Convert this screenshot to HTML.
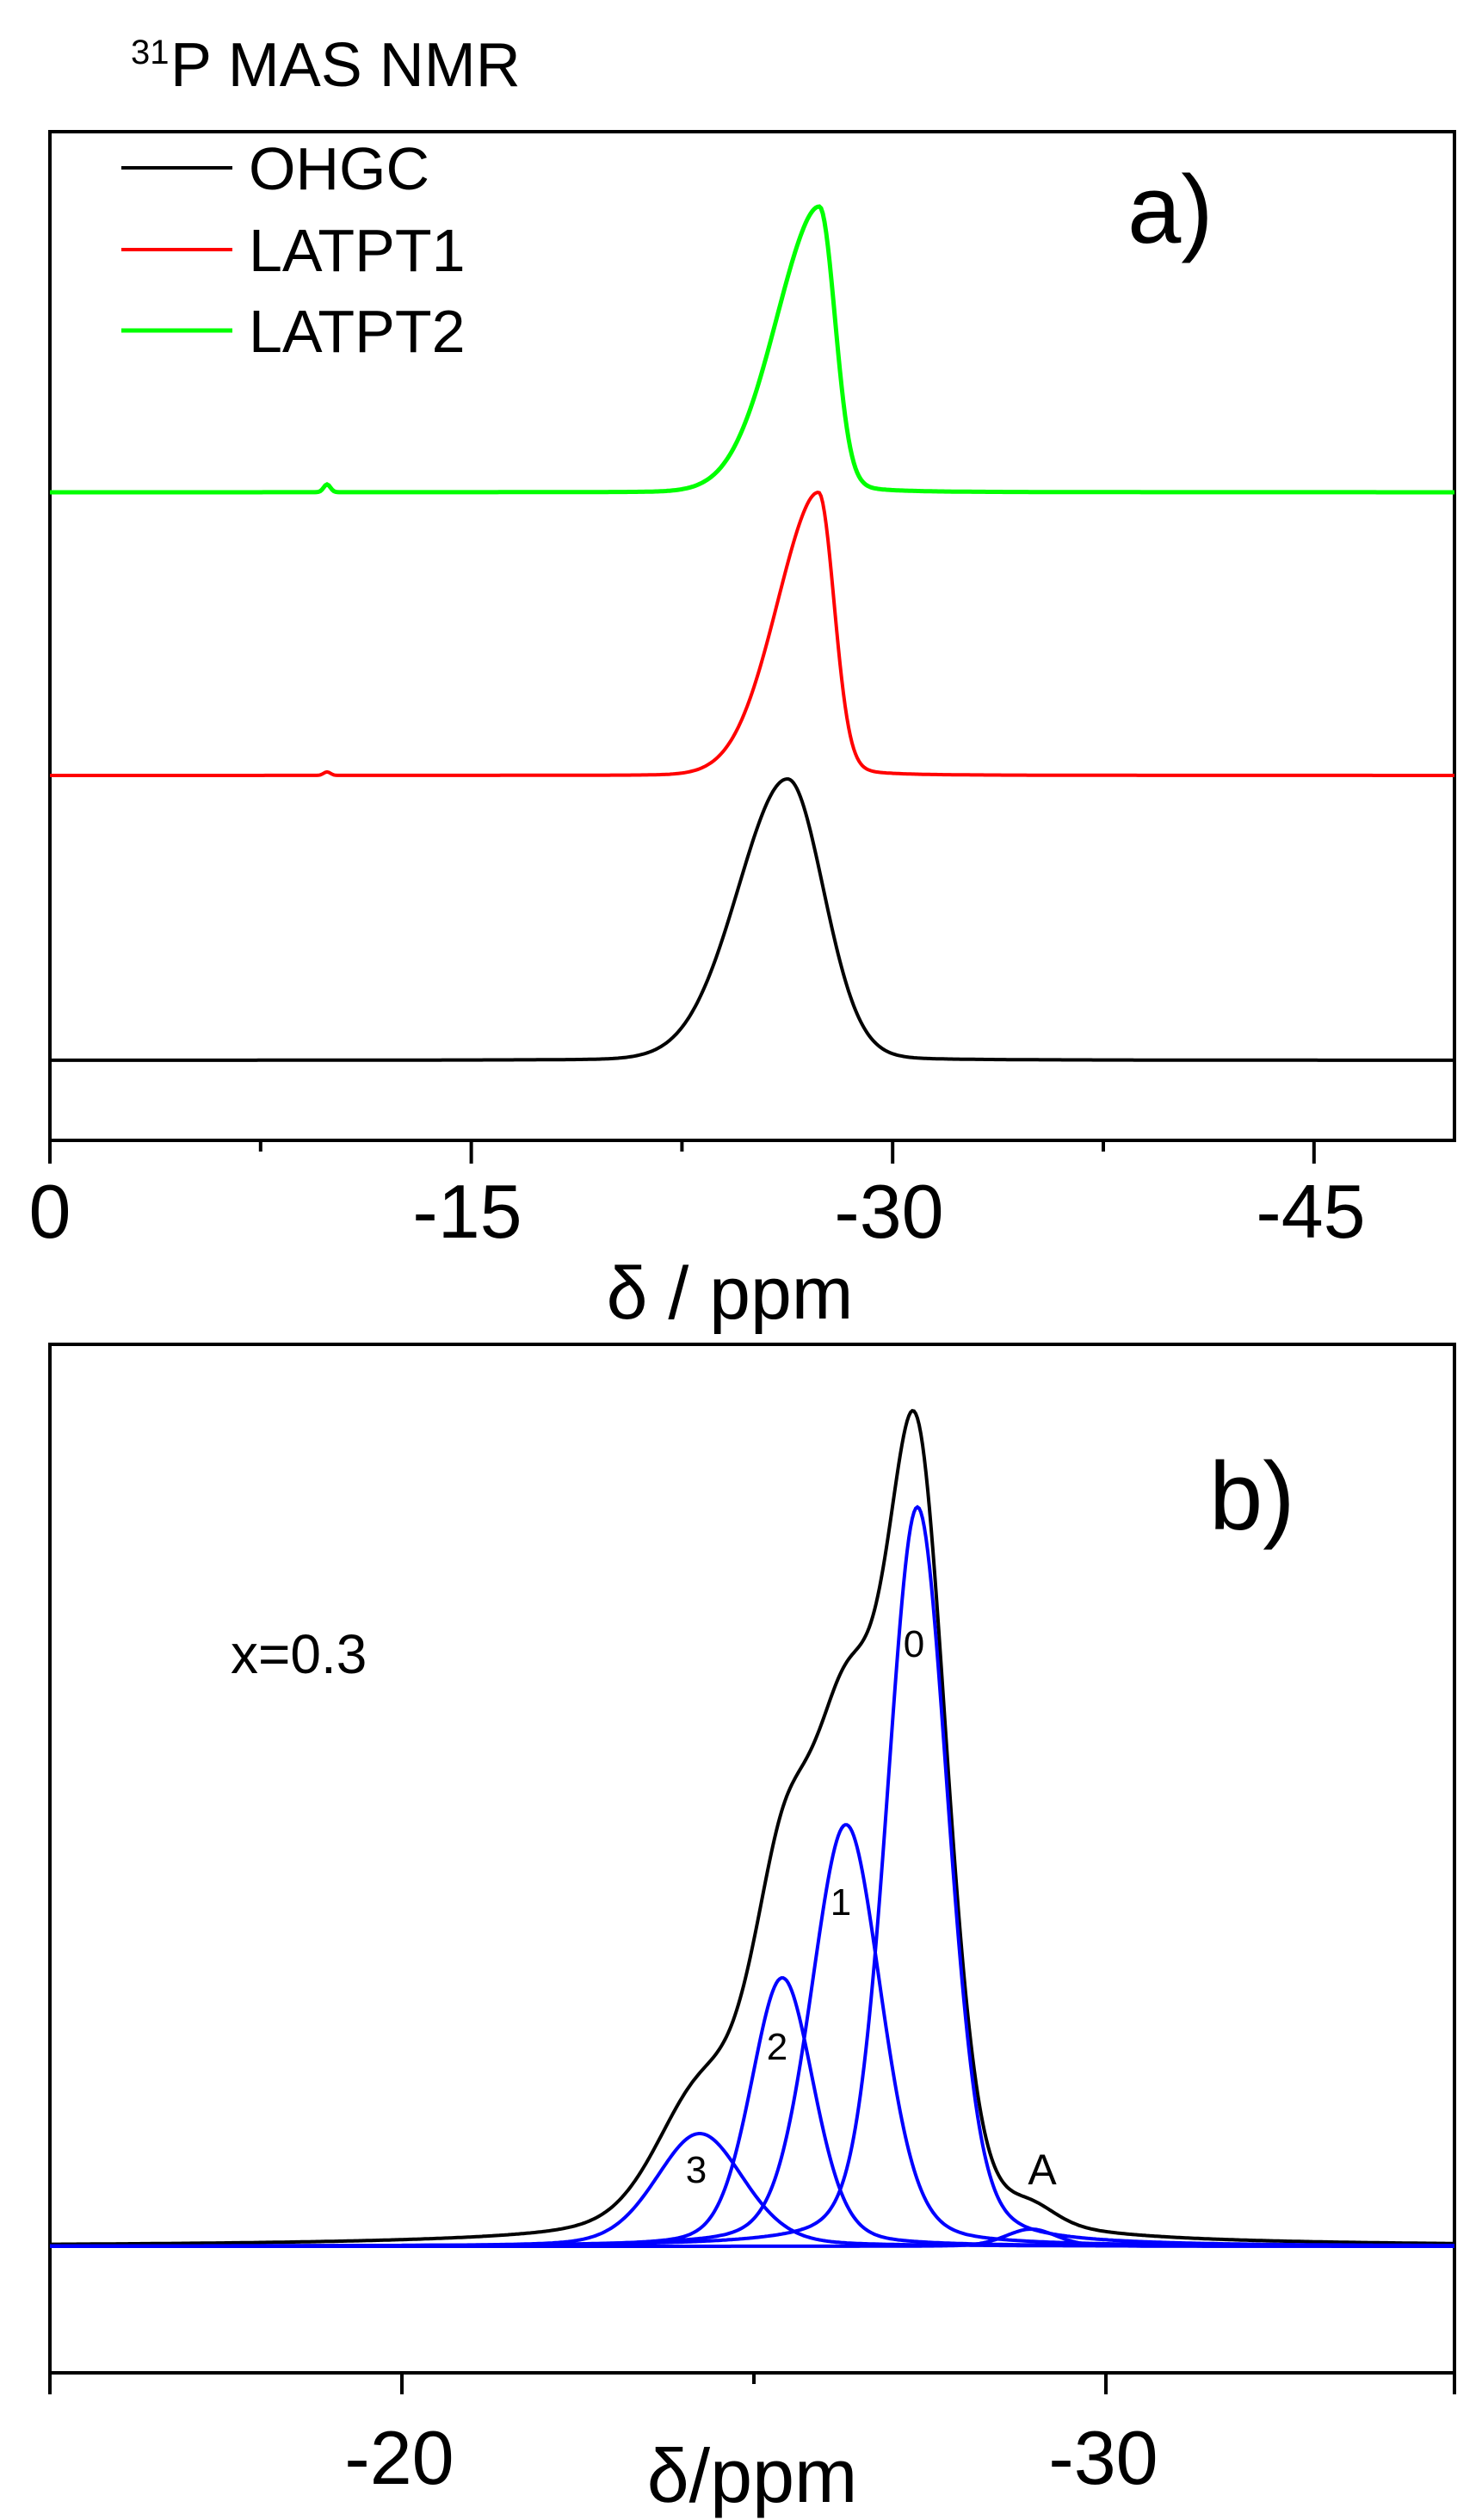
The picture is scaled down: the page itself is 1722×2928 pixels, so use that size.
<!DOCTYPE html>
<html><head><meta charset="utf-8"><style>
html,body{margin:0;padding:0;background:#fff;}
svg{display:block;}
text{font-family:"Liberation Sans",Arial,sans-serif;}
</style></head><body>
<svg id="s" width="1722" height="2928" viewBox="0 0 1722 2928" xmlns="http://www.w3.org/2000/svg">
<!-- Panel a -->
<text x="152" y="74" font-size="40">31</text>
<text x="198" y="100" font-size="72">P MAS NMR</text>
<rect x="58" y="153" width="1632" height="1172" fill="none" stroke="#000" stroke-width="4"/>
<g stroke="#000" stroke-width="4">
<line x1="58" y1="1325" x2="58" y2="1352"/>
<line x1="302.8" y1="1325" x2="302.8" y2="1338"/>
<line x1="547.6" y1="1325" x2="547.6" y2="1352"/>
<line x1="792.4" y1="1325" x2="792.4" y2="1338"/>
<line x1="1037.2" y1="1325" x2="1037.2" y2="1352"/>
<line x1="1282" y1="1325" x2="1282" y2="1338"/>
<line x1="1526.8" y1="1325" x2="1526.8" y2="1352"/>
</g>
<g font-size="88" text-anchor="middle">
<text x="58" y="1438">0</text>
<text x="543" y="1438">-15</text>
<text x="1033" y="1438">-30</text>
<text x="1523" y="1438">-45</text>
</g>
<text x="848" y="1532" font-size="86" text-anchor="middle">δ / ppm</text>
<line x1="141" y1="195" x2="270" y2="195" stroke="#000" stroke-width="4"/>
<line x1="141" y1="290" x2="270" y2="290" stroke="#f00" stroke-width="4"/>
<line x1="141" y1="384" x2="270" y2="384" stroke="#0f0" stroke-width="5"/>
<g font-size="70">
<text x="289" y="220">OHGC</text>
<text x="289" y="315">LATPT1</text>
<text x="289" y="409">LATPT2</text>
</g>
<text x="1310" y="282" font-size="112">a)</text>
<path id="pg" fill="none" stroke="#0f0" stroke-width="5"/>
<path id="pr" fill="none" stroke="#f00" stroke-width="4"/>
<path id="pk" fill="none" stroke="#000" stroke-width="4"/>

<!-- Panel b -->
<rect x="58" y="1562" width="1632" height="1195" fill="none" stroke="#000" stroke-width="4"/>
<g stroke="#000" stroke-width="4">
<line x1="58" y1="2757" x2="58" y2="2782"/>
<line x1="467" y1="2757" x2="467" y2="2782"/>
<line x1="876" y1="2757" x2="876" y2="2770"/>
<line x1="1285" y1="2757" x2="1285" y2="2782"/>
<line x1="1690" y1="2757" x2="1690" y2="2782"/>
</g>
<g font-size="88" text-anchor="middle">
<text x="464" y="2886">-20</text>
<text x="1282" y="2886">-30</text>
</g>
<text x="874" y="2907" font-size="88" text-anchor="middle">δ/ppm</text>
<text x="1405" y="1777" font-size="112">b)</text>
<text x="268" y="1944" font-size="64">x=0.3</text>
<path id="bk" fill="none" stroke="#000" stroke-width="4"/>
<g id="bb" fill="none" stroke="#00f" stroke-width="4"></g>
<g font-size="44" text-anchor="middle">
<text x="1062" y="1925">0</text>
<text x="977" y="2225">1</text>
<text x="903" y="2393">2</text>
<text x="809" y="2536">3</text>
</g>
<text x="1211" y="2538" font-size="50" text-anchor="middle">A</text>
</svg>
<script>
function skew(x,c,sl,sr,t){var s=x<c?sl:sr;var d=x-c;var g=Math.exp(-d*d/(2*s*s));var l=1/(1+d*d/(t*t));return 0.93*g+0.07*l;}
function path(f){var p="";for(var x=58;x<=1690;x+=2){var y=f(x);p+=(x==58?"M":"L")+x+","+y.toFixed(1);}return p;}
var ga=function(x,c,w,a){var d=x-c;return a*Math.exp(-d*d/(2*w*w));};
document.getElementById("pg").setAttribute("d",path(function(x){return 572-332*skew(x,952,52,18,30)-ga(x,380,4,9);}));
document.getElementById("pr").setAttribute("d",path(function(x){return 901-329*skew(x,951,50,18,30)-ga(x,380,4,4);}));
document.getElementById("pk").setAttribute("d",path(function(x){return 1232-327*skew(x,915,59,42,50);}));
// panel b
var B=2610;
function pv(x,c,fw,a){var d=x-c;var s=fw/2.355;var g=Math.exp(-d*d/(2*s*s));var h=fw/2;var l=1/(1+d*d/(h*h));return a*(0.75*g+0.25*l);}
var comps=[[1066,84,859],[983,96,490],[909,86,312],[813,120,131],[1198,70,20]];
var bb=document.getElementById("bb");
comps.forEach(function(c){var p=document.createElementNS("http://www.w3.org/2000/svg","path");p.setAttribute("d",path(function(x){return B-pv(x,c[0],c[1],c[2]);}));bb.appendChild(p);});
document.getElementById("bk").setAttribute("d",path(function(x){var s=0;comps.forEach(function(c){s+=pv(x,c[0],c[1],c[2]);});var bg=14/(1+Math.pow((x-880)/260,2))+ga(x,900,90,35)+ga(x,1010,30,18);return B-s-bg;}));
</script>
</body></html>
